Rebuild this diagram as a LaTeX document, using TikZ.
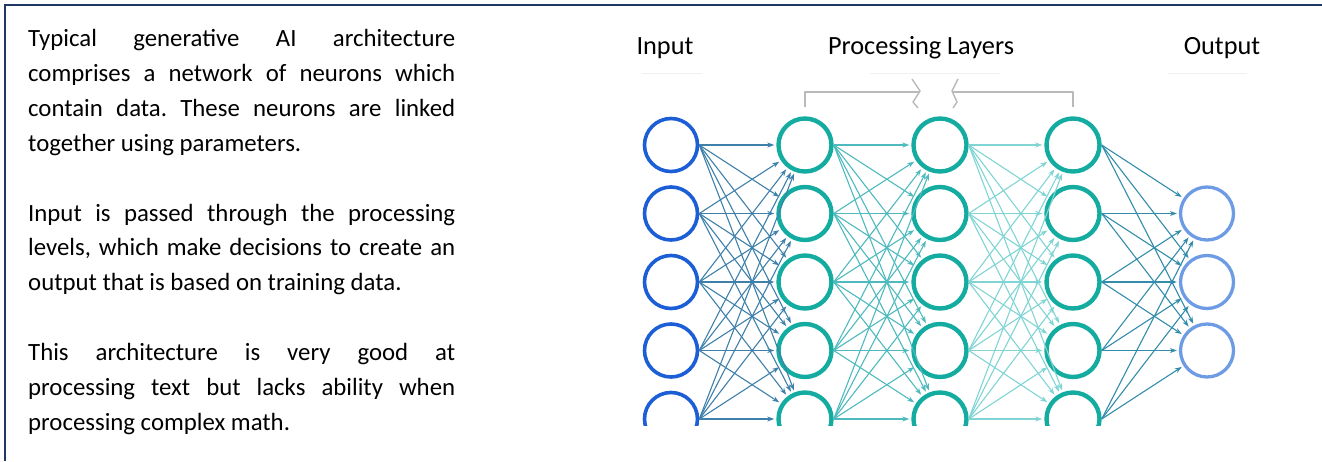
\documentclass[tikz,border=0pt]{standalone}
\usepackage{fontspec}
\setmainfont{Carlito}
\usepackage{tikz}
\usetikzlibrary{arrows.meta, positioning}
\usepackage{xcolor}
\frenchspacing

\definecolor{framenavy}{RGB}{32,56,100}
\definecolor{inblue}{RGB}{28,94,214}
\definecolor{hidteal}{RGB}{20,172,160}
\definecolor{outblue}{RGB}{110,156,228}
\definecolor{synin}{RGB}{62,128,170}
\definecolor{synmid}{RGB}{78,186,190}
\definecolor{synlight}{RGB}{128,212,212}
\definecolor{synout}{RGB}{50,140,170}

\begin{document}
\begin{tikzpicture}[
    x=1pt, y=-1pt,
    neuron/.style={circle, draw, minimum size=53pt, inner sep=0pt},
    inneuron/.style={neuron, draw=inblue, line width=3.6pt},
    hidneuron/.style={neuron, draw=hidteal, line width=4.4pt},
    outneuron/.style={neuron, draw=outblue, line width=3.3pt},
    syn/.style={line width=1.1pt, shorten >=2pt, -{Stealth[length=7pt,width=5pt]}},
    layertitle/.style={font=\fontsize{26.3}{30}\selectfont, inner sep=0pt},
    desc/.style={anchor=base west, inner sep=0pt, text width=427pt, align=justify,
      font=\fontsize{24.8}{34.9}\selectfont,
      execute at begin node={\setlength{\parskip}{34.9pt}\hyphenpenalty=10000}},
    bracket/.style={draw=gray!55, line width=1.4pt, line join=round},
    frame/.style={draw=framenavy, line width=2.5pt}
  ]

\useasboundingbox (0,0) rectangle (1322,461);

% Frame
\draw[frame] (5,461) -- (5,5) -- (1322,5);

% Text
\node[desc] (about) at (28,46.5) {Typical generative AI architecture\linebreak
comprises a network of neurons which\linebreak
contain data. These neurons are linked\linebreak
together using parameters.\par
Input is passed through the processing\linebreak
levels, which make decisions to create an\linebreak
output that is based on training data.\par
This architecture is very good at\linebreak
processing text but lacks ability when\linebreak
processing complex math.};

% Layer titles
\node[layertitle] (tin) at (665,48) {Input};
\node[layertitle] (thid) at (921,48) {Processing Layers};
\node[layertitle] (tout) at (1222,48) {Output};
\draw[gray!12, line width=1pt] (642,73) -- (702,73);
\draw[gray!12, line width=1pt] (870,73) -- (1000,73);
\draw[gray!12, line width=1pt] (1168,73) -- (1247,73);

% Bracket over the processing layers
\draw[bracket] (805,107) -- (805,92) -- (920,92);
\draw[bracket] (912,79) -- (920,91) -- (913,102) -- (918,108);
\draw[bracket] (958,79) -- (952,91) -- (957,102) -- (953,108);
\draw[bracket] (952,92) -- (1073,92) -- (1073,107);

\begin{scope}
\clip (620,100) rectangle (1270,425);

% Nodes
\foreach \i in {1,...,5} {
  \node[inneuron] (in\i) at (671,{145+68.5*(\i-1)}) {};
  \node[hidneuron] (ha\i) at (805,{145+68.5*(\i-1)}) {};
  \node[hidneuron] (hb\i) at (940,{145+68.5*(\i-1)}) {};
  \node[hidneuron] (hc\i) at (1073,{145+68.5*(\i-1)}) {};
}
\foreach \i in {1,2,3} {
  \node[outneuron] (out\i) at (1207,{213.5+68.5*(\i-1)}) {};
}

% Arrows
\foreach \i in {1,...,5} {
  \foreach \j in {1,...,5} {
    \draw[syn, synin] (in\i.east) -- (ha\j);
    \draw[syn, synmid] (ha\i.east) -- (hb\j);
    \draw[syn, synlight] (hb\i.east) -- (hc\j);
  }
  \foreach \j in {1,2,3} {
    \draw[syn, synout] (hc\i.east) -- (out\j);
  }
}
\end{scope}

\end{tikzpicture}
\end{document}
